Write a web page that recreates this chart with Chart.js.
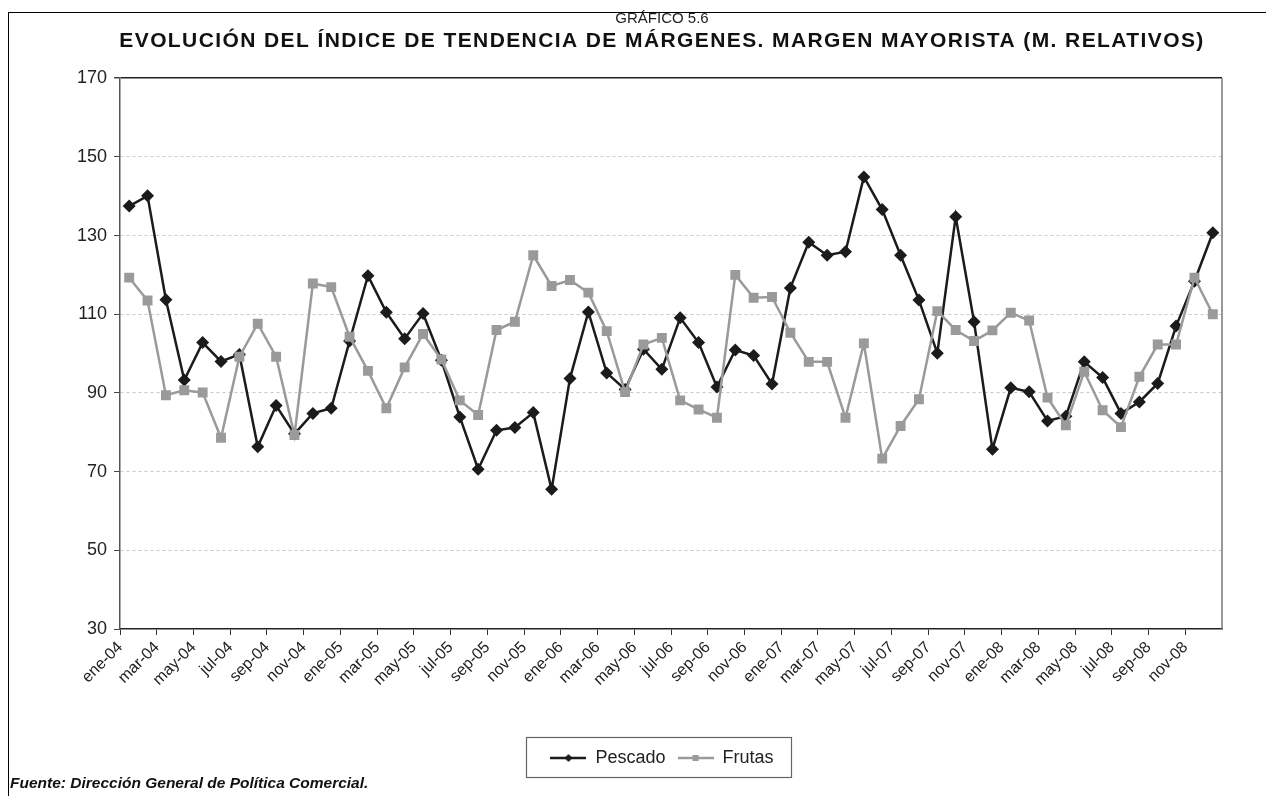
<!DOCTYPE html>
<html>
<head>
<meta charset="UTF-8">
<title>Gráfico 5.6</title>
<script src="https://cdn.jsdelivr.net/npm/chart.js@4/dist/chart.umd.min.js"></script>
<style>
html, body { margin: 0; background: #fff; overflow: hidden; }
#marco { position: absolute; left: 8px; top: 12px; width: 1300px; height: 800px; border: 1px solid #000; }
#caja { position: absolute; left: 0; top: 0; width: 1266px; height: 796px; }
#fuente { position: absolute; left: 10px; top: 774px; font: italic bold 15.5px "Liberation Sans", Arial, sans-serif; color: #111; }
</style>
</head>
<body>
<div id="marco"></div>
<div id="caja"><canvas id="grafico"></canvas></div>
<div id="fuente">Fuente: Dirección General de Política Comercial.</div>
<script type="text/javascript">
var meses = ["ene", "feb", "mar", "abr", "may", "jun", "jul", "ago", "sep", "oct", "nov", "dic"];
var anios = ["04", "05", "06", "07", "08"];
var marcasY = [30, 50, 70, 90, 110, 130, 150, 170];

var pescado = [137.5, 140.1, 113.7, 93.3, 102.8, 98.0, 99.8, 76.3, 86.8, 79.6, 84.8, 86.1,
  103.2, 119.8, 110.5, 103.8, 110.2, 98.3, 83.9, 70.6, 80.5, 81.2, 85.0, 65.5,
  93.7, 110.6, 95.1, 90.9, 101.1, 96.0, 109.1, 102.8, 91.5, 100.9, 99.5, 92.3,
  116.7, 128.3, 125.0, 125.9, 144.9, 136.6, 125.0, 113.6, 100.1, 134.8, 108.1, 75.7,
  91.3, 90.3, 82.9, 84.1, 97.9, 93.9, 84.8, 87.7, 92.4, 107.0, 118.4, 130.7];

var frutas = [119.3, 113.5, 89.4, 90.7, 90.1, 78.6, 99.2, 107.6, 99.2, 79.3, 117.8, 116.9,
  104.3, 95.6, 86.1, 96.5, 105.0, 98.5, 88.1, 84.4, 106.0, 108.1, 125.0, 117.2,
  118.7, 115.5, 105.7, 90.2, 102.3, 104.0, 88.1, 85.8, 83.7, 120.0, 114.2, 114.4,
  105.3, 97.9, 97.9, 83.7, 102.6, 73.3, 81.6, 88.4, 110.8, 106.0, 103.2, 105.9,
  110.4, 108.4, 88.8, 81.8, 95.4, 85.6, 81.3, 94.1, 102.3, 102.3, 119.3, 110.0];

var etiquetas = [];
for (var a = 0; a < anios.length; a++) {
  for (var m = 0; m < meses.length; m++) {
    etiquetas.push(meses[m] + "-" + anios[a]);
  }
}

var TITULO = "EVOLUCIÓN DEL ÍNDICE DE TENDENCIA DE MÁRGENES. MARGEN MAYORISTA (M. RELATIVOS)";
var NEGRO = "#1b1b1b";
var GRIS = "#9a9a9a";

// symbol for the legend: short line with the marker in the middle
function simbolo(forma, color) {
  var c = document.createElement("canvas");
  c.width = 36; c.height = 12;
  var g = c.getContext("2d");
  g.strokeStyle = color; g.lineWidth = 2.5;
  g.beginPath(); g.moveTo(0, 6); g.lineTo(36, 6); g.stroke();
  g.fillStyle = color;
  if (forma == "rombo") {
    g.beginPath(); g.moveTo(18, 2); g.lineTo(22, 6); g.lineTo(18, 10); g.lineTo(14, 6); g.closePath(); g.fill();
  } else {
    g.fillRect(15, 3, 6, 6);
  }
  return c;
}

// frame round the legend items, right edge of the plot, wider title
var bordes = {
  id: "bordes",
  afterLayout: function(chart) {
    chart.boxes.forEach(function(b) {
      if (b.options && b.options.text === TITULO && !b._espaciado) {
        var dibujar = b.draw;
        b._espaciado = true;
        b.draw = function() {
          this.ctx.save();
          this.ctx.letterSpacing = "1.4px";
          dibujar.apply(this, arguments);
          this.ctx.restore();
        };
      }
    });
  },
  afterDraw: function(chart) {
    var ctx = chart.ctx, area = chart.chartArea;
    ctx.save();
    ctx.strokeStyle = "#777"; ctx.lineWidth = 1.5;
    ctx.beginPath(); ctx.moveTo(area.right, area.top); ctx.lineTo(area.right, area.bottom); ctx.stroke();
    var l = chart.legend;
    if (l && l.legendHitBoxes && l.legendHitBoxes.length) {
      var b = l.legendHitBoxes;
      var x0 = b[0].left - 24;
      var x1 = b[b.length - 1].left + b[b.length - 1].width + 18;
      ctx.strokeStyle = "#666"; ctx.lineWidth = 1.2;
      ctx.strokeRect(Math.round(x0) + 0.5, Math.round(l.top) + 0.5, Math.round(x1 - x0), Math.round(l.height));
    }
    ctx.restore();
  }
};

Chart.defaults.font.family = '"Liberation Sans", Arial, sans-serif';
Chart.defaults.color = "#222";

new Chart(document.getElementById("grafico"), {
  type: "line",
  data: {
    labels: etiquetas,
    datasets: [
      {
        label: "Pescado",
        data: pescado,
        order: 2,
        borderColor: NEGRO,
        backgroundColor: NEGRO,
        borderWidth: 2.5,
        pointStyle: "rectRot",
        pointRadius: 6.5,
        pointBorderWidth: 0,
        tension: 0
      },
      {
        label: "Frutas",
        data: frutas,
        order: 1,
        borderColor: GRIS,
        backgroundColor: GRIS,
        borderWidth: 2.5,
        pointStyle: "rect",
        pointRadius: 7,
        pointBorderWidth: 0,
        tension: 0
      }
    ]
  },
  options: {
    responsive: true,
    maintainAspectRatio: false,
    animation: false,
    layout: { padding: { left: 58, right: 0, top: 0, bottom: 19 } },
    scales: {
      x: {
        type: "category",
        offset: true,
        afterFit: function(s) { s.height = 108; },
        ticks: {
          autoSkip: false,
          minRotation: 45,
          maxRotation: 45,
          labelOffset: -9,
          padding: 3,
          font: { size: 16 },
          color: "#222",
          callback: function(v, i) { return i % 2 === 0 ? this.getLabelForValue(v) : ""; }
        },
        grid: {
          drawOnChartArea: false,
          offset: true,
          tickLength: 6,
          tickWidth: 1,
          tickColor: function(c) { return c.index % 2 === 0 ? "#333" : "rgba(0,0,0,0)"; }
        },
        border: { color: "#222", width: 1.5 }
      },
      y: {
        min: 30,
        max: 170,
        afterBuildTicks: function(s) { s.ticks = marcasY.map(function(v) { return { value: v }; }); },
        afterFit: function(s) { s.width = 62; },
        ticks: { font: { size: 18 }, color: "#222", padding: 7 },
        grid: {
          color: function(c) {
            if (!c.tick) return "#bbb";
            if (c.tick.value === 170) return "#222";
            if (c.tick.value === 30) return "rgba(0,0,0,0)";
            return "#c8c8c8";
          },
          lineWidth: function(c) { return c.tick && c.tick.value === 170 ? 1.5 : 1; },
          tickLength: 6,
          tickColor: "#444",
          tickBorderDash: []
        },
        border: {
          color: "#555",
          width: 1.5,
          dash: function(c) { return c.tick && c.tick.value === 170 ? [] : [3, 3]; }
        }
      },
      margen: {
        position: "right",
        min: 30,
        max: 170,
        afterFit: function(s) { s.width = 44; },
        ticks: { display: false },
        grid: { display: false },
        border: { display: false }
      }
    },
    plugins: {
      title: {
        display: true,
        text: "GRÁFICO 5.6",
        font: { size: 15, weight: "normal" },
        color: "#222",
        padding: { top: 10, bottom: 1 }
      },
      subtitle: {
        display: true,
        text: TITULO,
        font: { size: 21, weight: "bold" },
        color: "#111",
        padding: { top: 0, bottom: 24 }
      },
      legend: {
        position: "bottom",
        labels: {
          usePointStyle: true,
          pointStyleWidth: 36,
          padding: 12,
          font: { size: 18 },
          color: "#222",
          sort: function(p, q) { return p.datasetIndex - q.datasetIndex; },
          generateLabels: function(chart) {
            var items = Chart.defaults.plugins.legend.labels.generateLabels(chart);
            items.forEach(function(it) {
              it.pointStyle = it.datasetIndex === 0 ? simbolo("rombo", NEGRO) : simbolo("cuadro", GRIS);
            });
            return items;
          }
        }
      },
      tooltip: { enabled: false }
    }
  },
  plugins: [bordes]
});
</script>
</body>
</html>
